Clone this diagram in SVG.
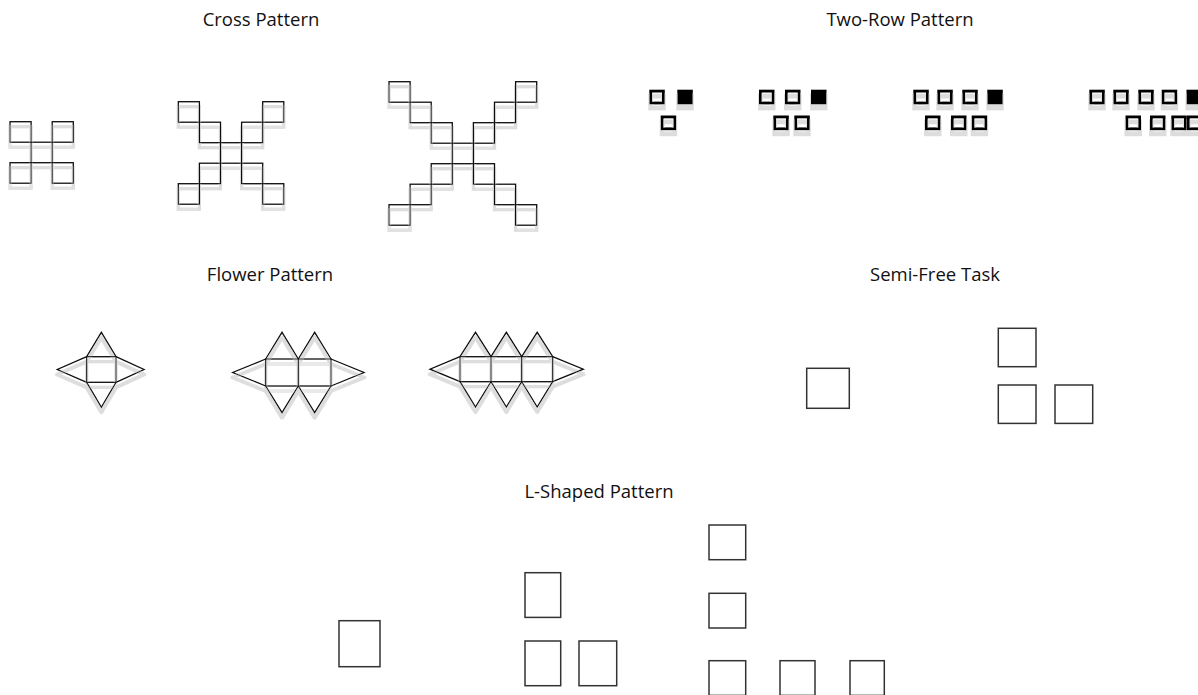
<svg xmlns="http://www.w3.org/2000/svg" width="1198" height="695" viewBox="0 0 1198 695">
<defs>
<filter id="sh" x="-20%" y="-20%" width="140%" height="160%">
<feMorphology in="SourceAlpha" operator="dilate" radius="0.7" result="d"/>
<feOffset in="d" dy="5" result="o"/>
<feGaussianBlur in="o" stdDeviation="0.7" result="b"/>
<feFlood flood-color="#dddddd"/>
<feComposite in2="b" operator="in" result="s"/>
<feMerge><feMergeNode in="s"/><feMergeNode in="SourceGraphic"/></feMerge>
</filter>
<rect id="c" width="21.1" height="20.5"/>
<rect id="h" x="1.4" y="1.4" width="12.7" height="11.9"/>
<rect id="f" width="15.5" height="14.7"/>
</defs>
<style>
.t{font-family:"Open Sans","Noto Sans",sans-serif;font-size:18.5px;fill:#111;text-anchor:middle}
.cr{fill:none;stroke:#111;stroke-width:1.3}
.tr .h{fill:none;stroke:#000;stroke-width:2.8}
.tr .f{fill:#000}
.fl{fill:none;stroke:#111;stroke-width:1.3;stroke-linejoin:miter}
.sq{fill:none;stroke:#333;stroke-width:1.5}
</style>
<rect width="1198" height="695" fill="#fff"/>

<text class="t" x="261" y="26">Cross Pattern</text>
<text class="t" x="900" y="26">Two-Row Pattern</text>
<text class="t" x="270" y="281">Flower Pattern</text>
<text class="t" x="935" y="281">Semi-Free Task</text>
<text class="t" x="599" y="498">L-Shaped Pattern</text>

<g id="cross-small" class="cr" filter="url(#sh)">
<use href="#c" x="10" y="121.7"/><use href="#c" x="52.2" y="121.7"/><use href="#c" x="31.1" y="142.2"/><use href="#c" x="10" y="162.7"/><use href="#c" x="52.2" y="162.7"/>
</g>
<g id="cross-medium" class="cr" filter="url(#sh)">
<use href="#c" x="178.3" y="101.7"/><use href="#c" x="262.7" y="101.7"/><use href="#c" x="199.4" y="122.2"/><use href="#c" x="241.6" y="122.2"/><use href="#c" x="220.5" y="142.7"/><use href="#c" x="199.4" y="163.2"/><use href="#c" x="241.6" y="163.2"/><use href="#c" x="178.3" y="183.7"/><use href="#c" x="262.7" y="183.7"/>
</g>
<g id="cross-large" class="cr" filter="url(#sh)">
<use href="#c" x="389" y="81.7"/><use href="#c" x="515.6" y="81.7"/><use href="#c" x="410.1" y="102.2"/><use href="#c" x="494.5" y="102.2"/><use href="#c" x="431.2" y="122.7"/><use href="#c" x="473.4" y="122.7"/><use href="#c" x="452.3" y="143.2"/><use href="#c" x="431.2" y="163.7"/><use href="#c" x="473.4" y="163.7"/><use href="#c" x="410.1" y="184.2"/><use href="#c" x="494.5" y="184.2"/><use href="#c" x="389" y="204.7"/><use href="#c" x="515.6" y="204.7"/>
</g>

<g id="tworow-1" class="tr" filter="url(#sh)">
<use class="h" href="#h" x="649.3" y="89.7"/><use class="f" href="#f" x="677.3" y="89.7"/>
<use class="h" href="#h" x="660.7" y="115.5"/>
</g>
<g id="tworow-2" class="tr" filter="url(#sh)">
<use class="h" href="#h" x="759" y="89.7"/><use class="h" href="#h" x="785" y="89.7"/><use class="f" href="#f" x="811" y="89.7"/>
<use class="h" href="#h" x="773.3" y="115.5"/><use class="h" href="#h" x="794.3" y="115.5"/>
</g>
<g id="tworow-3" class="tr" filter="url(#sh)">
<use class="h" href="#h" x="913.3" y="89.7"/><use class="h" href="#h" x="937.3" y="89.7"/><use class="h" href="#h" x="962.3" y="89.7"/><use class="f" href="#f" x="987.3" y="89.7"/>
<use class="h" href="#h" x="925" y="115.5"/><use class="h" href="#h" x="951" y="115.5"/><use class="h" href="#h" x="971.7" y="115.5"/>
</g>
<g id="tworow-4" class="tr" filter="url(#sh)">
<use class="h" href="#h" x="1089.3" y="89.7"/><use class="h" href="#h" x="1113.3" y="89.7"/><use class="h" href="#h" x="1138.3" y="89.7"/><use class="h" href="#h" x="1161.7" y="89.7"/><use class="f" href="#f" x="1186.5" y="89.7"/>
<use class="h" href="#h" x="1125.5" y="115.5"/><use class="h" href="#h" x="1150" y="115.5"/><use class="h" href="#h" x="1171.3" y="115.5"/><use class="h" href="#h" x="1187" y="115.5"/>
</g>

<g id="flower-1" class="fl" filter="url(#sh)">
<rect x="86.7" y="356.7" width="29.3" height="25.6"/>
<path d="M86.7 356.7 L101.35 332.3 L116 356.7 M86.7 382.3 L101.35 407.3 L116 382.3 M86.7 356.7 L57.3 369.5 L86.7 382.3 M116 356.7 L144 369.5 L116 382.3"/>
</g>
<g id="flower-2" class="fl" filter="url(#sh)">
<rect x="265.7" y="359" width="65.3" height="27"/>
<path d="M298.3 359 V386 M265.7 359 L282 332.3 L298.3 359 L314.65 332.3 L331 359 M265.7 386 L282 412.7 L298.3 386 L314.65 412.7 L331 386 M265.7 359 L232.7 372.5 L265.7 386 M331 359 L364 372.5 L331 386"/>
</g>
<g id="flower-3" class="fl" filter="url(#sh)">
<rect x="460" y="356.7" width="92.7" height="25"/>
<path d="M491 356.7 V381.7 M521.7 356.7 V381.7 M460 356.7 L475.5 332.3 L491 356.7 L506.35 332.3 L521.7 356.7 L537.2 332.3 L552.7 356.7 M460 381.7 L475.5 407 L491 381.7 L506.35 407 L521.7 381.7 L537.2 407 L552.7 381.7 M460 356.7 L430 369.2 L460 381.7 M552.7 356.7 L583.3 369.2 L552.7 381.7"/>
</g>

<g id="semifree-1" class="sq">
<rect x="806.7" y="368.3" width="42.6" height="40"/>
</g>
<g id="semifree-2" class="sq">
<rect x="998.3" y="328.3" width="37.7" height="38.4"/>
<rect x="998.3" y="385" width="37.7" height="38.4"/>
<rect x="1055" y="385" width="37.7" height="38.4"/>
</g>

<g id="lshape-1" class="sq">
<rect x="339" y="620.7" width="41" height="46"/>
</g>
<g id="lshape-2" class="sq">
<rect x="525" y="572.7" width="35.7" height="44.7"/>
<rect x="525" y="641" width="35.7" height="44.7"/>
<rect x="579" y="641" width="37.7" height="44.7"/>
</g>
<g id="lshape-3" class="sq">
<rect x="709" y="525" width="36.7" height="34.7"/>
<rect x="709" y="593.3" width="36.7" height="34.7"/>
<rect x="709" y="660.7" width="36.7" height="34.7"/>
<rect x="780" y="660.7" width="35" height="34.7"/>
<rect x="850" y="660.7" width="34.3" height="34.7"/>
</g>
</svg>
